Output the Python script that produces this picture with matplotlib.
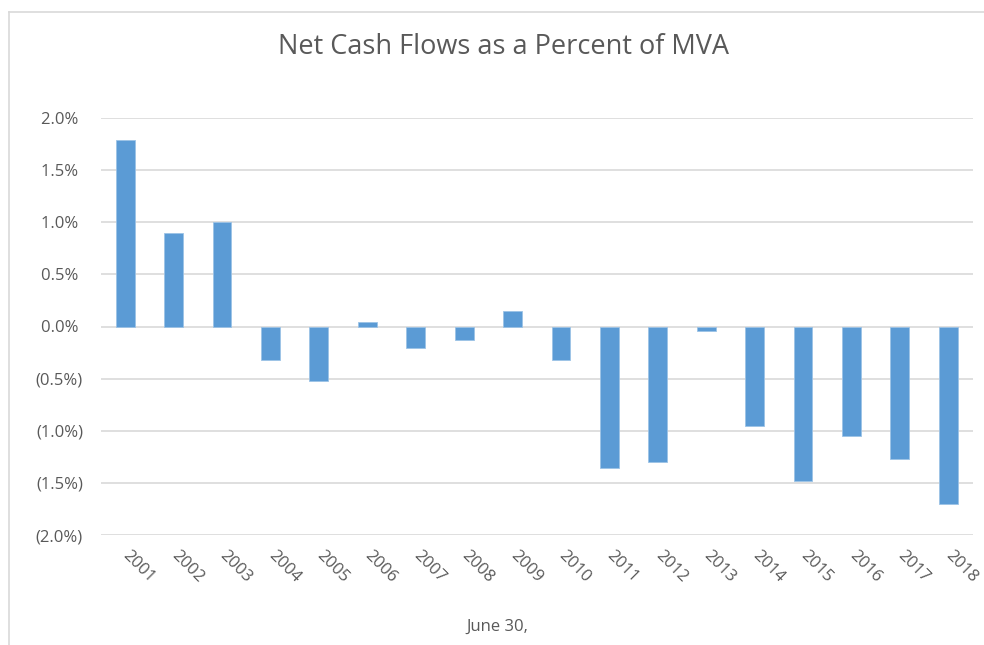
import matplotlib
matplotlib.use("Agg")
import matplotlib.pyplot as plt
from matplotlib.lines import Line2D

years = ["2001", "2002", "2003", "2004", "2005", "2006", "2007", "2008", "2009",
         "2010", "2011", "2012", "2013", "2014", "2015", "2016", "2017", "2018"]
values = [1.785, 0.895, 0.998, -0.32, -0.52, 0.042, -0.208, -0.13, 0.148,
          -0.32, -1.36, -1.30, -0.04, -0.95, -1.48, -1.05, -1.27, -1.70]
yticks = [2.0, 1.5, 1.0, 0.5, 0.0, -0.5, -1.0, -1.5, -2.0]
ytick_labels = ["2.0% ", "1.5% ", "1.0% ", "0.5% ", "0.0% ",
                "(0.5%)", "(1.0%)", "(1.5%)", "(2.0%)"]
title = "Net Cash Flows as a Percent of MVA"
xlabel = "June 30,"

plt.rcParams['font.family'] = ['Open Sans', 'DejaVu Sans']
txt = '#595959'
grid = '#d9d9d9'
bar_color = '#5b9bd5'

fig = plt.figure(figsize=(9.84, 6.45), dpi=100)
W, H = 984, 645
ax = fig.add_axes([101 / W, 1 - 535 / H, (972.5 - 101) / W, (535 - 118) / H])

x = list(range(len(years)))
ax.bar(x, values, width=0.39, color=bar_color, edgecolor='#9cc3e6', linewidth=0.6, zorder=3)
ax.set_xlim(-0.5, len(years) - 0.5)
ax.set_ylim(-2.0, 2.0)
ax.set_yticks(yticks)
ax.set_yticklabels(ytick_labels, color=txt, fontsize=12)
ax.yaxis.grid(True, color=grid, linewidth=1.2, zorder=0)
ax.set_axisbelow(True)
ax.tick_params(axis='y', length=0, pad=13)
ax.set_xticks(x)
ax.set_xticklabels(years, rotation=-45, ha='left', va='center', rotation_mode='anchor',
                   color=txt, fontsize=12)
ax.tick_params(axis='x', length=0, pad=13)
for s in ax.spines.values():
    s.set_visible(False)

fig.text(497 / W, 1 - 627 / H, xlabel, ha='center', va='center', color=txt, fontsize=12)
fig.text(503 / W, 1 - 47 / H, title, ha='center', va='center', color=txt, fontsize=19.5)

# chart-area border
fig.add_artist(Line2D([9 / W, 9 / W], [0, 1 - 12 / H], transform=fig.transFigure, color=grid, linewidth=1.2))
fig.add_artist(Line2D([9 / W, 1], [1 - 12 / H, 1 - 12 / H], transform=fig.transFigure, color=grid, linewidth=1.2))

fig.savefig("out.png", dpi=100)
